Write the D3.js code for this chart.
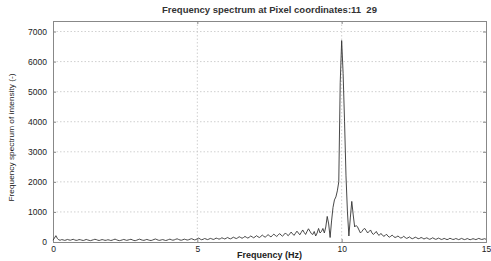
<!DOCTYPE html>
<html>
<head>
<meta charset="utf-8">
<script src="https://cdn.jsdelivr.net/npm/d3@7"></script>
<style>
    body { margin: 0; background: #fff; }
    svg { display: block; font-family: "Liberation Sans", Arial, sans-serif; }
    .grid line { stroke: #c4c4c4; stroke-dasharray: 1.5,2; stroke-width: 0.8; }
    .tick text { fill: #222; font-size: 8.5px; }
</style>
</head>
<body>
<svg id="chart" width="491" height="261"></svg>
<script>
const TITLE = 'Frequency spectrum at Pixel coordinates:11  29'
const X_LABEL = 'Frequency (Hz)'
const Y_LABEL = 'Frequency spectrum of intensity (-)'

const X_TICKS = [0, 5, 10, 15]
const Y_TICKS = [0, 1000, 2000, 3000, 4000, 5000, 6000, 7000]

// spectrum sampled every 0.05 Hz from 0 to 15 Hz
const FREQ_STEP = 0.05
const amplitude = [
    60, 130, 210, 120, 70, 60, 80, 70, 55, 65, 85, 70, 60, 75, 90, 70, 55, 60, 80, 75,
    60, 50, 65, 85, 70, 55, 45, 60, 75, 90, 80, 60, 50, 65, 80, 70, 55, 60, 75, 65,
    50, 60, 80, 95, 75, 55, 45, 55, 70, 85, 70, 55, 65, 80, 90, 70, 50, 45, 60, 80,
    95, 75, 60, 55, 70, 85, 70, 55, 50, 65, 85, 100, 80, 60, 55, 70, 80, 65, 50, 60,
    80, 95, 75, 60, 70, 90, 105, 85, 65, 60, 75, 95, 80, 65, 75, 95, 110, 90, 70, 80,
    110, 130, 95, 75, 90, 115, 100, 80, 95, 120, 105, 85, 100, 130, 115, 95, 110, 140, 120, 100,
    125, 150, 120, 105, 130, 160, 135, 115, 140, 175, 150, 125, 150, 185, 155, 130, 160, 200, 170, 140,
    170, 210, 175, 150, 185, 230, 190, 160, 200, 245, 205, 170, 215, 260, 220, 185, 230, 280, 230, 195,
    240, 300, 250, 210, 270, 330, 270, 220, 290, 360, 300, 240, 320, 400, 320, 250, 350, 440, 360, 280,
    250, 350, 200, 300, 450, 300, 350, 450, 300, 500, 850, 600, 150, 700, 1150, 1400, 1500, 1700, 2000, 5300,
    6700, 5600, 4000, 2200, 1000, 200, 800, 1350, 900, 500, 550, 500, 400, 300, 350, 420, 450, 380, 300, 350,
    400, 300, 250, 300, 350, 260, 220, 280, 250, 190, 210, 260, 200, 160, 190, 230, 180, 150, 170, 200,
    160, 130, 150, 190, 150, 120, 140, 170, 130, 110, 130, 160, 140, 110, 120, 150, 130, 100, 120, 140,
    110, 90, 110, 140, 115, 90, 100, 130, 110, 85, 95, 120, 100, 80, 95, 125, 105, 85, 90, 115,
    100, 80, 95, 120, 100, 80, 90, 115, 95, 75, 90, 110, 95, 80, 100, 120, 100, 85, 95, 110,
    90
]

const margin = { top: 21, right: 5, bottom: 19, left: 53 }
let svg = d3.select('#chart')
let width = +svg.attr('width') - margin.left - margin.right
let height = +svg.attr('height') - margin.top - margin.bottom

let x = d3.scaleLinear().domain([0, 15]).range([0, width])
let y = d3.scaleLinear().domain([0, 7350]).range([height, 0])

let g = svg.append('g')
    .attr('transform', 'translate(' + margin.left + ',' + margin.top + ')')

// dotted grid
g.append('g').attr('class', 'grid')
    .selectAll('line')
    .data(Y_TICKS.slice(1))
    .enter().append('line')
    .attr('x1', 0).attr('x2', width)
    .attr('y1', d => y(d)).attr('y2', d => y(d))

g.append('g').attr('class', 'grid')
    .selectAll('line')
    .data(X_TICKS.slice(1, -1))
    .enter().append('line')
    .attr('x1', d => x(d)).attr('x2', d => x(d))
    .attr('y1', 0).attr('y2', height)

// axes, ticks pointing inwards like matlab
let xAxis = g.append('g')
    .attr('transform', 'translate(0,' + height + ')')
    .call(d3.axisBottom(x).tickValues(X_TICKS).tickSize(-3).tickPadding(5).tickFormat(d3.format('d')))
let yAxis = g.append('g')
    .call(d3.axisLeft(y).tickValues(Y_TICKS).tickSize(-3).tickPadding(6).tickFormat(d3.format('d')))
g.append('g')
    .attr('transform', 'translate(' + width + ',0)')
    .call(d3.axisRight(y).tickValues(Y_TICKS).tickSize(-3).tickFormat(''))
g.append('g')
    .call(d3.axisTop(x).tickValues(X_TICKS).tickSize(-3).tickFormat(''))

g.selectAll('.domain').attr('stroke', '#888')
g.selectAll('.tick line').attr('stroke', '#888')
xAxis.selectAll('text').attr('dy', '0.6em')

// spectrum line
let line = d3.line()
    .x((d, i) => x(i * FREQ_STEP))
    .y(d => y(d))

g.append('path')
    .datum(amplitude)
    .attr('fill', 'none')
    .attr('stroke', '#333')
    .attr('stroke-width', 0.9)
    .attr('d', line)

// labels
svg.append('text')
    .attr('x', margin.left + width / 2)
    .attr('y', 13)
    .attr('text-anchor', 'middle')
    .style('white-space', 'pre')
    .style('font-size', '9.5px')
    .style('font-weight', 'bold')
    .style('fill', '#333')
    .text(TITLE)

svg.append('text')
    .attr('x', margin.left + width / 2)
    .attr('y', 258)
    .attr('text-anchor', 'middle')
    .style('font-size', '9px')
    .style('font-weight', 'bold')
    .style('fill', '#222')
    .text(X_LABEL)

svg.append('text')
    .attr('transform', 'translate(14,' + (margin.top + height / 2 + 6) + ') rotate(-90)')
    .attr('text-anchor', 'middle')
    .attr('textLength', 128)
    .attr('lengthAdjust', 'spacingAndGlyphs')
    .style('font-size', '7.5px')
    .style('fill', '#222')
    .text(Y_LABEL)
</script>
</body>
</html>
